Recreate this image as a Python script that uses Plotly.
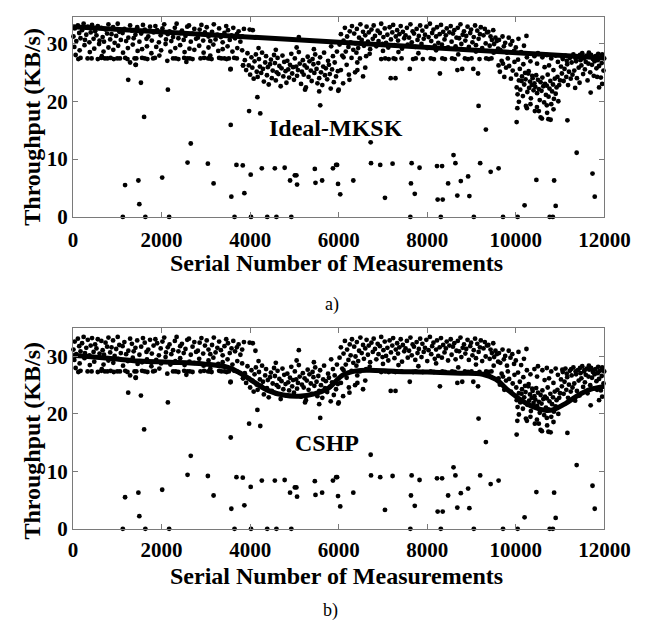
import plotly.graph_objects as go

# ---------------- data (serial number, throughput KB/s) ----------------
band_a_upper = [(10,31.2),(40,32.6),(75,30.4),(110,33.1),(140,31.8),(170,30.9),(205,32.3),(240,33.4),(270,30.6),(300,31.5),
(335,32.9),(370,30.2),(400,31.9),(430,33.2),(465,30.8),(500,32.1),(530,31.4),(560,33.0),(600,30.5),(640,32.7),
(670,31.1),(700,30.3),(735,32.4),(770,31.7),(800,33.3),(840,30.7),(870,31.6),(905,32.8),(940,30.1),(975,31.3),
(1010,33.4),(1045,32.0),(1080,30.6),(1120,31.8),(1160,32.5),(1200,30.4),(1250,31.0),(1290,33.1),(1330,32.2),(1370,30.9),
(1410,31.5),(1450,32.8),(1500,30.3),(1540,31.7),(1580,33.2),(1620,32.4),(1660,30.8),(1700,31.2),(1740,32.9),(1780,30.5),
(1820,31.9),(1860,33.0),(1900,32.3),(1940,30.2),(1980,31.4),(2020,32.6),(2060,33.3),(2100,30.7),(2140,31.6),(2180,32.1),
(2220,30.4),(2260,31.1),(2300,32.7),(2340,33.4),(2380,30.9),(2420,31.8),(2460,32.2),(2500,30.6),(2540,31.3),(2580,32.9),
(2620,33.1),(2660,30.3),(2700,31.7),(2740,32.5),(2780,30.8),(2820,31.0),(2860,32.4),(2900,33.2),(2940,30.5),(2980,31.9),
(3020,32.8),(3060,31.2),(3100,30.4),(3140,32.0),(3180,33.3),(3220,30.7),(3260,31.5),(3300,32.6),(3340,31.1),(3380,30.2),
(3420,31.8),(3460,33.0),(3500,32.3),(3540,30.6),(3580,31.4),(3620,32.7),(3660,30.9),(3700,31.6),(3740,32.1),(3780,30.3),
(3820,31.2),(3860,32.5),(3990,32.4),(4060,32.3),(4120,31.0)]

band_a_mid = [(30,29.4),(150,28.8),(260,29.7),(380,28.5),(480,29.1),(590,29.9),(690,28.6),(800,29.3),(910,28.9),(1020,29.6),
(1130,28.4),(1240,29.2),(1350,29.8),(1460,28.7),(1560,29.0),(1670,29.5),(1770,28.3),(1880,29.4),(1990,28.8),(2090,29.9),
(2200,28.6),(2310,29.2),(2420,29.7),(2520,28.5),(2630,29.1),(2740,28.9),(2850,29.6),(2950,28.4),(3060,29.3),(3170,29.8),
(3280,28.7),(3380,29.0),(3490,29.5),(3600,28.6),(3710,29.2),(3820,28.8)]

band_a_row = [(120,27.3),(170,27.5),(330,27.4),(420,27.4),(560,27.3),(640,27.5),(720,27.4),(780,27.4),(850,27.5),(920,27.3),
(1000,27.4),(1060,27.4),(1180,27.5),(1230,27.3),(1390,27.4),(1430,27.4),(1560,27.5),(1620,27.4),(1680,27.3),(1810,27.4),
(1850,27.5),(2260,27.4),(2320,27.4),(2380,27.3),(2510,27.5),(2580,27.4),(2640,27.4),(2700,27.3),(2880,27.4),(2960,27.5),
(3050,27.4),(3090,27.4),(3130,27.3),(3300,27.5),(3350,27.4),(3420,27.4),(3470,27.3),(3520,27.4),(3640,27.5),(3700,27.4)]

band_a_low = [(60,28.0),(1290,26.7),(1420,26.3),(2560,26.8),(3560,25.6),(3840,26.2),(2130,27.0),(3100,27.9),(1950,27.9),(650,27.8)]

band_b = [(3880,27.1),(3910,25.4),(3940,28.3),(3970,26.2),(4000,24.6),(4030,27.6),(4050,25.8),(4080,23.9),(4100,26.9),(4130,28.1),
(4150,25.1),(4170,24.2),(4200,27.3),(4220,26.0),(4250,24.9),(4270,28.4),(4290,25.6),(4310,23.4),(4340,26.7),(4360,27.8),
(4380,24.5),(4400,25.9),(4420,22.9),(4450,26.4),(4470,27.2),(4490,24.0),(4510,25.3),(4540,28.0),(4560,26.6),(4580,23.6),
(4600,25.0),(4620,27.5),(4640,24.7),(4660,26.1),(4690,22.6),(4710,25.7),(4730,27.9),(4750,24.3),(4770,26.8),(4800,25.2),
(4820,23.2),(4840,27.0),(4860,25.5),(4880,24.1),(4900,26.3),(4930,28.2),(4950,24.8),(4970,25.9),(4990,23.7),(5010,27.4),
(5040,26.0),(5060,24.4),(5080,25.4),(5100,28.5),(5120,26.5),(5150,23.0),(5170,25.1),(5190,27.1),(5210,24.6),(5230,26.2),
(5260,22.4),(5280,25.8),(5300,27.7),(5320,24.2),(5340,26.9),(5370,25.3),(5390,23.5),(5410,27.3),(5430,26.4),(5450,24.9),
(5470,28.1),(5500,25.6),(5520,23.1),(5540,26.6),(5560,24.0),(5580,27.6),(5600,25.0),(5630,22.8),(5650,26.0),(5670,28.4),
(5690,24.5),(5710,25.7),(5740,23.8),(5760,27.0),(5780,26.3),(5800,24.7),(5820,22.2),(5850,25.5),(5870,27.8),(5890,23.3),
(5910,26.7),(5940,24.3),(5960,28.6),(5980,25.2),(6000,22.0),(5990,21.8),(5240,22.0),(5560,21.7),
(4190,29.2),(4580,28.9),(5050,29.3),(5440,29.0),(5830,29.5),(5100,31.1)]

band_c_upper = [(6020,29.8),(6050,31.6),(6080,27.9),(6110,30.5),(6140,32.7),(6160,28.6),(6190,31.2),(6220,29.4),(6250,32.1),(6270,30.2),
(6300,33.0),(6330,28.9),(6350,31.7),(6380,30.0),(6410,32.5),(6440,29.2),(6460,31.0),(6490,33.3),(6520,30.6),(6550,32.0),
(6570,29.6),(6600,31.4),(6630,32.9),(6660,30.3),(6680,31.9),(6710,29.0),(6740,32.4),(6770,30.8),(6790,33.1),(6820,31.3),
(6850,29.5),(6880,32.2),(6900,30.4),(6930,31.8),(6960,33.4),(6990,29.9),(7010,31.1),(7040,32.6),(7070,30.1),(7100,31.5),
(7120,29.3),(7150,32.8),(7180,30.7),(7210,31.9),(7230,33.2),(7260,29.7),(7290,31.2),(7320,32.3),(7340,30.5),(7370,31.6),
(7400,33.0),(7430,29.1),(7450,32.0),(7480,30.9),(7510,31.4),(7540,32.7),(7560,29.8),(7590,31.0),(7620,33.3),(7650,30.2),
(7670,32.1),(7700,31.7),(7730,29.4),(7760,32.5),(7780,30.6),(7810,31.3),(7840,33.1),(7870,29.9),(7890,32.2),(7920,30.8),
(7950,31.5),(7980,32.9),(8000,29.2),(8030,31.1),(8060,33.4),(8090,30.4),(8110,31.8),(8140,32.4),(8170,29.6),(8200,31.2),
(8220,32.8),(8250,30.1),(8280,31.6),(8310,33.2),(8330,29.8),(8360,32.0),(8390,30.7),(8420,31.4),(8440,32.6),(8470,29.3),
(8500,31.9),(8530,33.0),(8550,30.3),(8580,31.7),(8610,32.3),(8640,29.5),(8660,31.0),(8690,32.7),(8720,30.9),(8750,33.3),
(8770,29.9),(8800,31.5),(8830,32.1),(8860,30.5),(8880,31.3),(8910,32.9),(8940,29.4),(8970,31.8),(8990,32.4),(9020,30.2),
(9050,31.1),(9080,33.1),(9100,29.7),(9130,32.2),(9160,30.8),(9190,31.6),(9210,32.8),(9240,29.2),(9270,31.4),(9300,32.5),
(9320,30.0),(9350,31.9),(9380,32.0),(9410,29.6),(9430,31.2),(9460,30.6),(9490,32.3),(9510,29.9),(9540,31.0),(9570,30.4),
(9600,29.1)]

band_c_row = [(6110,27.6),(6290,27.5),(6480,27.4),(6620,27.8),(6960,27.3),(7050,27.4),(7130,27.3),(7240,27.4),(7280,27.3),(7420,27.4),
(7680,27.3),(7740,27.4),(7900,27.3),(8080,27.4),(8150,27.3),(8340,27.4),(8400,27.3),(8560,27.4),(8620,27.3),(8850,27.4),
(8920,27.3),(9000,27.4),(9180,27.3),(9330,27.4),(9390,27.3),(9450,27.4),
(6400,28.4),(6700,28.2),(7000,28.7),(7350,28.5),(7800,28.3),(8200,28.8),(8700,28.1),(9100,28.6),(9500,28.4)]

band_c_low = [(6050,25.4),(6180,26.3),(6230,24.6),(6370,25.0),(6420,26.7),(6550,24.3),(6600,25.8),(7175,24.0),(7283,24.0),(7605,25.6),
(8286,24.8),(8680,25.4),(8790,25.6),(9040,25.6),(9147,24.8),(6100,23.1),(6243,23.7),(6422,25.4)]

band_d = [(9620,30.6),(9650,28.9),(9700,31.2),(9730,29.5),(9760,30.1),(9800,28.4),(9840,31.0),(9880,29.8),(9920,30.4),(9960,28.7),
(10000,29.3),(10060,30.8),(10120,28.5),(10184,29.6),(10240,31.3),
(9610,26.2),(9640,25.1),(9680,27.0),(9710,26.5),(9740,24.2),(9780,25.8),(9820,27.4),(9850,26.1),(9890,23.9),(9930,25.3),
(9970,26.8),(10010,24.6),(10050,27.2),(10090,25.6),(10130,23.5),(10170,26.4),(10210,24.9),(10250,27.6),(10290,25.2),(10330,26.9),
(10370,24.4),
(10020,22.4),(10040,21.2),(10070,23.6),(10100,22.0),(10140,24.3),(10160,20.9),(10190,22.9),(10220,23.8),(10260,21.6),(10280,24.8),
(10300,22.3),(10320,23.4),(10340,20.5),(10360,22.8),(10380,24.0),(10400,21.9),(10420,23.1),(10440,22.5),(10460,24.5),(10480,21.4),
(10500,23.7),(10520,22.1),(10540,20.2),(10560,23.3),(10580,21.8),(10600,24.1),(10620,22.6),(10640,19.8),(10660,23.0),(10680,21.1),
(10700,22.7),(10720,24.6),(10740,20.8),(10760,22.2),(10780,23.5),(10800,19.5),(10820,21.7),(10840,22.9),(10860,20.4),(10880,23.9),
(10900,21.3),(10920,22.4),(10940,24.2),(10960,20.0),(10980,22.8),(11000,23.6),
(10250,18.8),(10430,18.3),(10520,18.3),(10560,17.2),(10590,17.0),(10330,19.5),
(10420,27.8),(10500,28.3),(10600,27.6),(10700,28.0),(10800,27.4),(10900,27.9),(10480,26.5),(10650,25.9),(10750,26.2),(10850,25.4),
(10950,26.8)]

band_e = [(11020,26.0),(11040,24.8),(11060,27.3),(11080,23.5),(11100,25.6),(11120,27.9),(11140,24.2),(11160,26.4),(11180,22.8),(11200,25.1),
(11220,27.5),(11240,23.9),(11260,26.7),(11280,24.6),(11300,28.1),(11320,25.3),(11340,22.3),(11360,26.9),(11380,24.0),(11400,27.6),
(11420,25.8),(11440,23.2),(11460,27.1),(11480,26.2),(11500,28.3),(11520,24.7),(11540,27.4),(11560,25.5),(11580,26.8),(11600,27.9),
(11620,23.6),(11640,26.5),(11660,27.7),(11680,25.0),(11700,28.0),(11720,26.3),(11740,27.3),(11760,24.4),(11780,26.9),(11800,27.8),
(11820,25.7),(11840,27.2),(11860,28.2),(11880,26.1),(11900,27.5),(11920,24.1),(11940,26.6),(11960,27.9),(11980,25.3),(11995,27.4),
(11690,21.5),(11836,24.2),(11880,22.4),(11950,23.0),
(11050,27.7),(11150,27.0),(11250,27.8),(11350,27.4),(11450,28.0),(11550,27.6),(11650,28.4),(11750,27.6),(11850,27.1),(11950,28.1)]

outliers = [(1606,17.3),(1176,5.5),(1477,6.3),(1498,2.2),(2014,6.8),(2587,9.4),(2659,12.7),(3046,9.2),(3175,5.8),(3562,15.9),
(3576,3.5),(3691,9.0),(3834,8.9),(3870,4.1),(3977,18.3),(4013,7.3),(4229,17.9),(4264,8.4),(4558,8.4),(4780,8.5),
(4902,6.3),(5010,7.2),(5045,7.2),(5060,5.6),(5461,8.3),(5476,5.9),(5583,19.3),(5626,6.3),(5870,8.4),(5942,9.0),
(5964,9.0),(5985,5.7),(6035,3.9),(4164,20.7),(1247,23.7),(1534,23.2),(2143,22.0),(3555,25.5),(3841,26.2),(1412,26.3),
(6722,12.9),(6330,6.3),(6730,9.3),(6938,9.0),(7045,3.3),(7217,9.2),(7647,9.3),(7632,5.8),(7718,4.0),(7826,8.5),
(8220,8.8),(8335,8.8),(8235,3.0),(8349,3.0),(8471,5.8),(8593,10.7),(8636,9.3),(8679,3.7),(8758,6.2),(8923,7.0),
(8951,3.6),(9159,19.2),(9195,9.3),(9324,15.1),(9432,7.8),(9611,8.4),(10019,16.4),(10034,18.8),(10069,19.9),(10228,19.2),
(10198,2.0),(10464,6.4),(10477,19.0),(10700,19.3),(10707,18.0),(10735,16.9),(10786,16.8),(10851,18.6),(10865,6.3),(10900,1.9),
(11165,16.7),(11374,11.1),(11732,7.5),(11782,3.5)]

zero_points = [1125, 1634, 2171, 3648, 4020, 4386, 4594, 4930, 7618, 8306, 9052, 9711, 10041, 10765, 10836]

# fitted curves
ideal_fit_x = [0, 12000]
ideal_fit_y = [32.9, 27.5]
cshp_fit_x = [0, 800, 1500, 2200, 2950, 3500, 3800, 4100, 4400, 4750, 5100, 5450, 5750, 6100, 6400, 6700, 7300,
              8000, 8750, 9250, 9550, 9830, 10120, 10400, 10690, 10830, 11120, 11400, 11700, 12000]
cshp_fit_y = [30.2, 29.7, 29.2, 29.0, 28.7, 28.1, 27.0, 25.5, 24.1, 23.3, 23.1, 23.5, 24.4, 26.8, 27.5, 27.6, 27.4,
              27.3, 27.1, 26.9, 26.0, 24.1, 22.4, 21.2, 20.6, 20.7, 21.8, 23.2, 24.3, 24.8]

x_ticks = [0, 2000, 4000, 6000, 8000, 10000, 12000]
x_tick_text = ["0", "2000", "4000", "6000", "8000", "10000", "12000"]
y_ticks = [0, 10, 20, 30]

# ---------------- assemble ----------------
groups = [band_a_upper, band_a_mid, band_a_row, band_a_low, band_b, band_c_upper, band_c_row,
          band_c_low, band_d, band_e, outliers, [(z, 0.0) for z in zero_points]]
serial = [p[0] for g in groups for p in g]
throughput = [p[1] for g in groups for p in g]

FONT = "'Liberation Serif', 'Times New Roman', Times, serif"
GRAY = "#7a7a7a"

fig = go.Figure()
for xa, ya, fx, fy, shape in [("x", "y", ideal_fit_x, ideal_fit_y, "linear"),
                              ("x2", "y2", cshp_fit_x, cshp_fit_y, "spline")]:
    fig.add_trace(go.Scatter(x=serial, y=throughput, mode="markers", xaxis=xa, yaxis=ya,
                             marker=dict(color="black", size=4.8, line=dict(width=0)),
                             cliponaxis=False, showlegend=False, hoverinfo="skip"))
    fig.add_trace(go.Scatter(x=fx, y=fy, mode="lines", xaxis=xa, yaxis=ya,
                             line=dict(color="black", width=5, shape=shape, smoothing=1.0),
                             showlegend=False, hoverinfo="skip"))

xdom = [63 / 650, 621 / 650]
tickfont = dict(family=FONT, size=21, color="black", weight="bold")
common_x = dict(range=[0, 12000], tickvals=x_ticks, ticktext=x_tick_text, ticks="inside", ticklen=5, tickcolor=GRAY,
                showline=True, linecolor=GRAY, linewidth=1, mirror="ticks", showgrid=False, zeroline=False,
                tickfont=tickfont, domain=xdom)
common_y = dict(tickvals=y_ticks, ticks="inside", ticklen=5, tickcolor=GRAY,
                showline=True, linecolor=GRAY, linewidth=1, mirror="ticks", showgrid=False, zeroline=False,
                tickfont=tickfont, ticklabelstandoff=0)

fig.update_layout(
    width=650, height=627, margin=dict(l=0, r=0, t=0, b=0),
    paper_bgcolor="white", plot_bgcolor="white",
    xaxis=dict(common_x, anchor="y", ticklabelstandoff=4),
    yaxis=dict(common_y, range=[0, 34.6], domain=[1 - 213 / 627, 1 - 9 / 627], anchor="x"),
    xaxis2=dict(common_x, anchor="y2", ticklabelstandoff=2),
    yaxis2=dict(common_y, range=[0, 35], domain=[1 - 531 / 627, 1 - 326 / 627], anchor="x2"),
)

bold = dict(family=FONT, size=24, color="black", weight="bold")
ann = [
    dict(text="Throughput (KB/s)", x=20 / 650, y=1 - 121 / 627, textangle=-90, font=bold),
    dict(text="Throughput (KB/s)", x=20 / 650, y=1 - 441 / 627, textangle=-90, font=bold),
    dict(text="Serial Number of Measurements", x=340 / 650, y=1 - 260 / 627, font=bold),
    dict(text="Serial Number of Measurements", x=340 / 650, y=1 - 579 / 627, font=bold),
    dict(text="a)", x=335 / 650, y=1 - 302 / 627, font=dict(family=FONT, size=18, color="black")),
    dict(text="b)", x=333 / 650, y=1 - 614 / 627, font=dict(family=FONT, size=18, color="black")),
]
for a in ann:
    a.update(xref="paper", yref="paper", showarrow=False, xanchor="center", yanchor="middle")
fig.update_layout(annotations=ann)
fig.add_annotation(text="Ideal-MKSK", x=5934, y=15.3, xref="x", yref="y", showarrow=False,
                   font=dict(family=FONT, size=24, color="black", weight="bold"))
fig.add_annotation(text="CSHP", x=5740, y=15.0, xref="x2", yref="y2", showarrow=False,
                   font=dict(family=FONT, size=24, color="black", weight="bold"))

fig.write_html("out.html")
